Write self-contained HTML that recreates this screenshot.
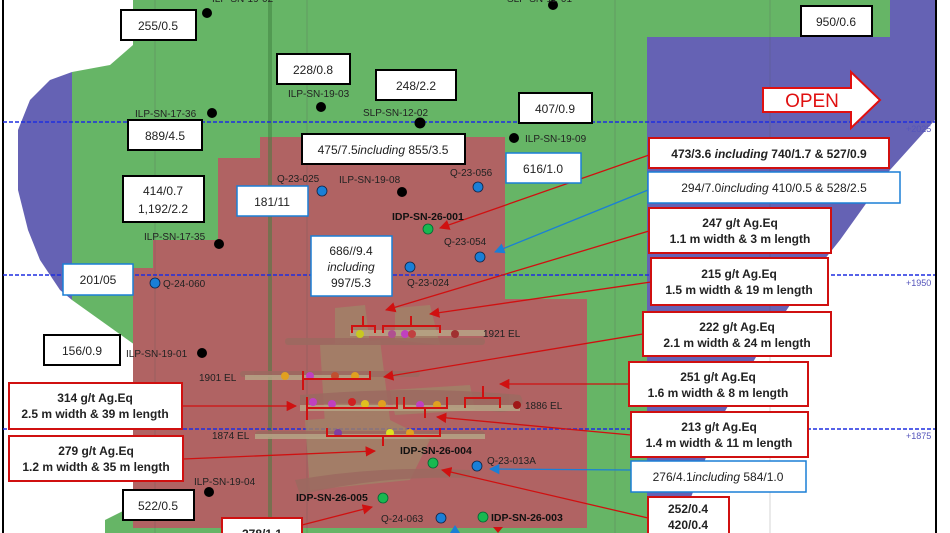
<!DOCTYPE html>
<html><head><meta charset="utf-8"><style>
html,body{margin:0;padding:0;background:#fff;}
svg{display:block;font-family:"Liberation Sans",sans-serif;}
.lb{font-size:10px;fill:#222;}
.bx{font-size:12px;fill:#222;}
.rb{font-size:12px;font-weight:bold;fill:#222;}
.gb{font-size:10.5px;font-weight:bold;fill:#111;}
</style></head><body>
<svg width="950" height="533" viewBox="0 0 950 533" xmlns="http://www.w3.org/2000/svg">
<defs>
<marker id="ar" viewBox="0 0 10 10" refX="9" refY="5" markerWidth="8" markerHeight="8" orient="auto-start-reverse"><path d="M0,0L10,5L0,10z" fill="#d01010"/></marker>
<marker id="ab" viewBox="0 0 10 10" refX="9" refY="5" markerWidth="8" markerHeight="8" orient="auto-start-reverse"><path d="M0,0L10,5L0,10z" fill="#1a7fd6"/></marker>
</defs>
<rect width="950" height="533" fill="#fff"/>
<path d="M133,0 L890,0 L890,37 L647,37 L647,533 L105,533 L105,520 L135,505 L200,470 L215,430 L205,390 L160,365 L135,345 L100,320 L72,300 L72,72 L110,65 L133,45 Z" fill="#66b566"/>
<path d="M72,72 L72,300 L60,290 L40,260 L28,230 L18,190 L18,130 L30,100 L50,80 Z" fill="#6562b4"/>
<path d="M647,37 L890,37 L890,0 L935,0 L935,120 L890,170 L840,240 L800,290 L760,350 L720,420 L690,500 L647,500 Z" fill="#6562b4"/>
<path d="M260,137 L505,137 L505,299 L587,299 L587,528 L133,528 L133,268 L153,268 L153,240 L218,240 L218,158 L260,158 Z" fill="#b06363"/>
<g stroke="#555" stroke-opacity="0.25" stroke-width="1">
<line x1="155" y1="0" x2="155" y2="533"/><line x1="307" y1="0" x2="307" y2="533"/>
<line x1="615" y1="0" x2="615" y2="533"/><line x1="770" y1="0" x2="770" y2="533"/>
</g>
<line x1="270" y1="0" x2="270" y2="533" stroke="#3d7d3d" stroke-opacity="0.5" stroke-width="4"/>
<line x1="3" y1="0" x2="3" y2="533" stroke="#000" stroke-width="2"/>
<line x1="936" y1="0" x2="936" y2="533" stroke="#000" stroke-width="2"/>
<g stroke="#1f2ee0" stroke-width="1.5" stroke-dasharray="4,2">
<line x1="3" y1="122" x2="935" y2="122"/><line x1="3" y1="275" x2="935" y2="275"/><line x1="3" y1="429" x2="935" y2="429"/>
</g>
<g font-size="9" fill="#5555bb"><text x="906" y="132">+2025</text><text x="906" y="286">+1950</text><text x="906" y="439">+1875</text></g>
<g fill="#a08468" opacity="0.8">
<path d="M335,308 L365,305 L370,345 L335,345Z"/><path d="M395,308 L430,305 L440,345 L395,340Z"/>
<path d="M320,345 L380,340 L390,420 L325,425Z"/><path d="M305,420 L380,415 L430,440 L410,480 L310,490Z"/>
<path d="M390,390 L470,385 L475,410 L395,415Z"/>
</g>
<g fill="#9c6a60" opacity="0.85">
<rect x="285" y="338" width="200" height="7" rx="3"/><rect x="240" y="371" width="180" height="6" rx="3"/>
<path d="M300,395 Q420,385 520,395 Q530,410 500,412 Q400,400 300,405Z"/>
<rect x="255" y="431" width="230" height="6" rx="3"/><path d="M295,480 Q380,465 470,470 L470,478 Q380,475 300,495Z"/>
</g>
<g fill="#b8a888" opacity="0.8"><rect x="350" y="330" width="135" height="6"/><rect x="245" y="375" width="125" height="5"/><rect x="300" y="405" width="220" height="6"/><rect x="255" y="434" width="230" height="5"/></g>
<g>
<circle cx="360" cy="334" r="4" fill="#c8c820"/><circle cx="405" cy="334" r="4" fill="#c040c0"/><circle cx="392" cy="334" r="4" fill="#b05090"/><circle cx="412" cy="334" r="4" fill="#c04040"/><circle cx="455" cy="334" r="4" fill="#a03030"/>
<circle cx="285" cy="376" r="4" fill="#e0a020"/><circle cx="310" cy="376" r="4" fill="#c040c0"/><circle cx="335" cy="376" r="4" fill="#c05030"/><circle cx="355" cy="376" r="4" fill="#e0a020"/>
<circle cx="313" cy="402" r="4" fill="#c040c0"/><circle cx="332" cy="404" r="4" fill="#c040c0"/><circle cx="352" cy="402" r="4" fill="#d02020"/><circle cx="365" cy="404" r="4" fill="#e0c020"/><circle cx="382" cy="404" r="4" fill="#e0a020"/><circle cx="420" cy="405" r="4" fill="#c040c0"/><circle cx="437" cy="405" r="4" fill="#e0a020"/><circle cx="517" cy="405" r="4" fill="#a01818"/>
<circle cx="390" cy="433" r="4" fill="#e0e020"/><circle cx="410" cy="433" r="4" fill="#e0a020"/><circle cx="338" cy="433" r="4" fill="#8040a0"/>
</g>
<g fill="none" stroke="#d01010" stroke-width="2">
<path d="M352,333 V326 H375 V333 M363,326 V316"/><path d="M383,333 V326 H440 V333 M411,326 V316"/>
<path d="M303,379 H370 V371 M303,371 V390"/><path d="M307,397 V408 H397 V397 M307,398 V420"/>
<path d="M404,397 V408 H447 V397 M425,408 V418"/><path d="M465,408 V398 H500 V408 M483,398 V386"/>
<path d="M327,428 V436 H440 V428 M383,436 V446"/>
</g>
<g stroke="#d01010" stroke-width="1.3" fill="none">
<line x1="649" y1="155" x2="440" y2="228" marker-end="url(#ar)"/>
<line x1="649" y1="231" x2="386" y2="310" marker-end="url(#ar)"/>
<line x1="651" y1="282" x2="430" y2="314" marker-end="url(#ar)"/>
<line x1="643" y1="334" x2="384" y2="377" marker-end="url(#ar)"/>
<line x1="629" y1="384" x2="500" y2="384" marker-end="url(#ar)"/>
<line x1="631" y1="435" x2="437" y2="417" marker-end="url(#ar)"/>
<line x1="648" y1="518" x2="442" y2="470" marker-end="url(#ar)"/>
<line x1="182" y1="406" x2="296" y2="406" marker-end="url(#ar)"/>
<line x1="183" y1="459" x2="375" y2="451" marker-end="url(#ar)"/>
<line x1="302" y1="525" x2="372" y2="507" marker-end="url(#ar)"/>
</g>
<g stroke="#1a7fd6" stroke-width="1.3" fill="none">
<line x1="648" y1="190" x2="495" y2="252" marker-end="url(#ab)"/>
<line x1="631" y1="470" x2="490" y2="469" marker-end="url(#ab)"/>
</g>
<path d="M493,527 L503,527 L498,533Z" fill="#d01010"/><path d="M450,533 L455,525 L460,533Z" fill="#1a7fd6"/>
<g fill="#000">
<circle cx="207" cy="13" r="5"/><circle cx="553" cy="5" r="5"/><circle cx="212" cy="113" r="5"/><circle cx="321" cy="107" r="5"/><circle cx="420" cy="123" r="5.5"/><circle cx="514" cy="138" r="5"/><circle cx="402" cy="192" r="5"/><circle cx="219" cy="244" r="5"/><circle cx="202" cy="353" r="5"/><circle cx="209" cy="492" r="5"/>
</g>
<g fill="#1a7fd6" stroke="#124" stroke-width="0.8">
<circle cx="322" cy="191" r="5"/><circle cx="478" cy="187" r="5"/><circle cx="480" cy="257" r="5"/><circle cx="410" cy="267" r="5"/><circle cx="155" cy="283" r="5"/><circle cx="477" cy="466" r="5"/><circle cx="441" cy="518" r="5"/>
</g>
<g fill="#18b850" stroke="#063" stroke-width="0.8">
<circle cx="428" cy="229" r="5"/><circle cx="433" cy="463" r="5"/><circle cx="383" cy="498" r="5"/><circle cx="483" cy="517" r="5"/>
</g>
<g class="lb">
<text x="212" y="2">ILP-SN-19-02</text><text x="507" y="2">SLP-SN-12-01</text>
<text x="135" y="117">ILP-SN-17-36</text><text x="288" y="97">ILP-SN-19-03</text><text x="363" y="116">SLP-SN-12-02</text><text x="525" y="142">ILP-SN-19-09</text>
<text x="339" y="183">ILP-SN-19-08</text><text x="144" y="240">ILP-SN-17-35</text><text x="126" y="357">ILP-SN-19-01</text><text x="194" y="485">ILP-SN-19-04</text>
<text x="277" y="182">Q-23-025</text><text x="450" y="176">Q-23-056</text><text x="444" y="245">Q-23-054</text><text x="407" y="286">Q-23-024</text><text x="163" y="287">Q-24-060</text><text x="487" y="464">Q-23-013A</text><text x="381" y="522">Q-24-063</text>
<text x="483" y="337">1921 EL</text><text x="199" y="381">1901 EL</text><text x="525" y="409">1886 EL</text><text x="212" y="439">1874 EL</text>
</g>
<g class="gb">
<text x="392" y="220">IDP-SN-26-001</text><text x="400" y="454">IDP-SN-26-004</text><text x="296" y="501">IDP-SN-26-005</text><text x="491" y="521">IDP-SN-26-003</text>
</g>
<g fill="#fff" stroke="#000" stroke-width="2">
<rect x="121" y="10" width="75" height="30"/><rect x="277" y="54" width="73" height="30"/><rect x="376" y="70" width="80" height="30"/>
<rect x="128" y="120" width="74" height="30"/><rect x="302" y="134" width="163" height="30"/><rect x="123" y="176" width="81" height="46"/>
<rect x="519" y="93" width="73" height="30"/><rect x="801" y="6" width="71" height="30"/><rect x="44" y="335" width="76" height="30"/><rect x="123" y="490" width="71" height="30"/>
</g>
<g fill="#fff" stroke="#1a7fd6" stroke-width="1.5">
<rect x="237" y="186" width="71" height="30"/><rect x="311" y="236" width="81" height="60"/><rect x="506" y="153" width="75" height="30"/>
<rect x="648" y="172" width="252" height="31"/><rect x="63" y="264" width="70" height="31"/><rect x="631" y="461" width="175" height="31"/>
</g>
<g fill="#fff" stroke="#d01010" stroke-width="2">
<rect x="649" y="138" width="240" height="30"/><rect x="649" y="208" width="182" height="45"/><rect x="651" y="258" width="177" height="47"/>
<rect x="643" y="312" width="188" height="44"/><rect x="629" y="362" width="179" height="44"/><rect x="631" y="412" width="177" height="45"/>
<rect x="648" y="497" width="81" height="40"/><rect x="9" y="383" width="173" height="46"/><rect x="9" y="436" width="174" height="45"/><rect x="222" y="518" width="80" height="20"/>
</g>
<g class="bx" text-anchor="middle">
<text x="158" y="30">255/0.5</text><text x="313" y="74">228/0.8</text><text x="416" y="90">248/2.2</text><text x="165" y="140">889/4.5</text>
<text x="383" y="154">475/7.5<tspan font-style="italic">including</tspan> 855/3.5</text>
<text x="163" y="195">414/0.7</text><text x="163" y="213">1,192/2.2</text>
<text x="555" y="113">407/0.9</text><text x="836" y="26">950/0.6</text><text x="82" y="355">156/0.9</text><text x="158" y="510">522/0.5</text>
<text x="272" y="206">181/11</text>
<text x="351" y="255">686//9.4</text><text x="351" y="271" font-style="italic">including</text><text x="351" y="287">997/5.3</text>
<text x="543" y="173">616/1.0</text><text x="774" y="192">294/7.0<tspan font-style="italic">including</tspan> 410/0.5 &amp; 528/2.5</text>
<text x="98" y="284">201/05</text><text x="718" y="481">276/4.1<tspan font-style="italic">including</tspan> 584/1.0</text>
</g>
<g class="rb" text-anchor="middle">
<text x="769" y="158">473/3.6 <tspan font-style="italic">including</tspan> 740/1.7 &amp; 527/0.9</text>
<text x="740" y="227">247 g/t Ag.Eq</text><text x="740" y="243">1.1 m width &amp; 3 m length</text>
<text x="739" y="278">215 g/t Ag.Eq</text><text x="739" y="294">1.5 m width &amp; 19 m length</text>
<text x="737" y="331">222 g/t Ag.Eq</text><text x="737" y="347">2.1 m width &amp; 24 m length</text>
<text x="718" y="381">251 g/t Ag.Eq</text><text x="718" y="397">1.6 m width &amp; 8 m length</text>
<text x="719" y="431">213 g/t Ag.Eq</text><text x="719" y="447">1.4 m width &amp; 11 m length</text>
<text x="688" y="513">252/0.4</text><text x="688" y="529">420/0.4</text>
<text x="95" y="402">314 g/t Ag.Eq</text><text x="95" y="418">2.5 m width &amp; 39 m length</text>
<text x="96" y="455">279 g/t Ag.Eq</text><text x="96" y="471">1.2 m width &amp; 35 m length</text>
<text x="262" y="538">278/1.1</text>
</g>
<path d="M763,88 L851,88 L851,72 L880,100 L851,128 L851,112 L763,112 Z" fill="#fff" stroke="#e01010" stroke-width="2"/>
<text x="812" y="107" font-size="19" fill="#e01010" text-anchor="middle">OPEN</text>
</svg>
</body></html>
